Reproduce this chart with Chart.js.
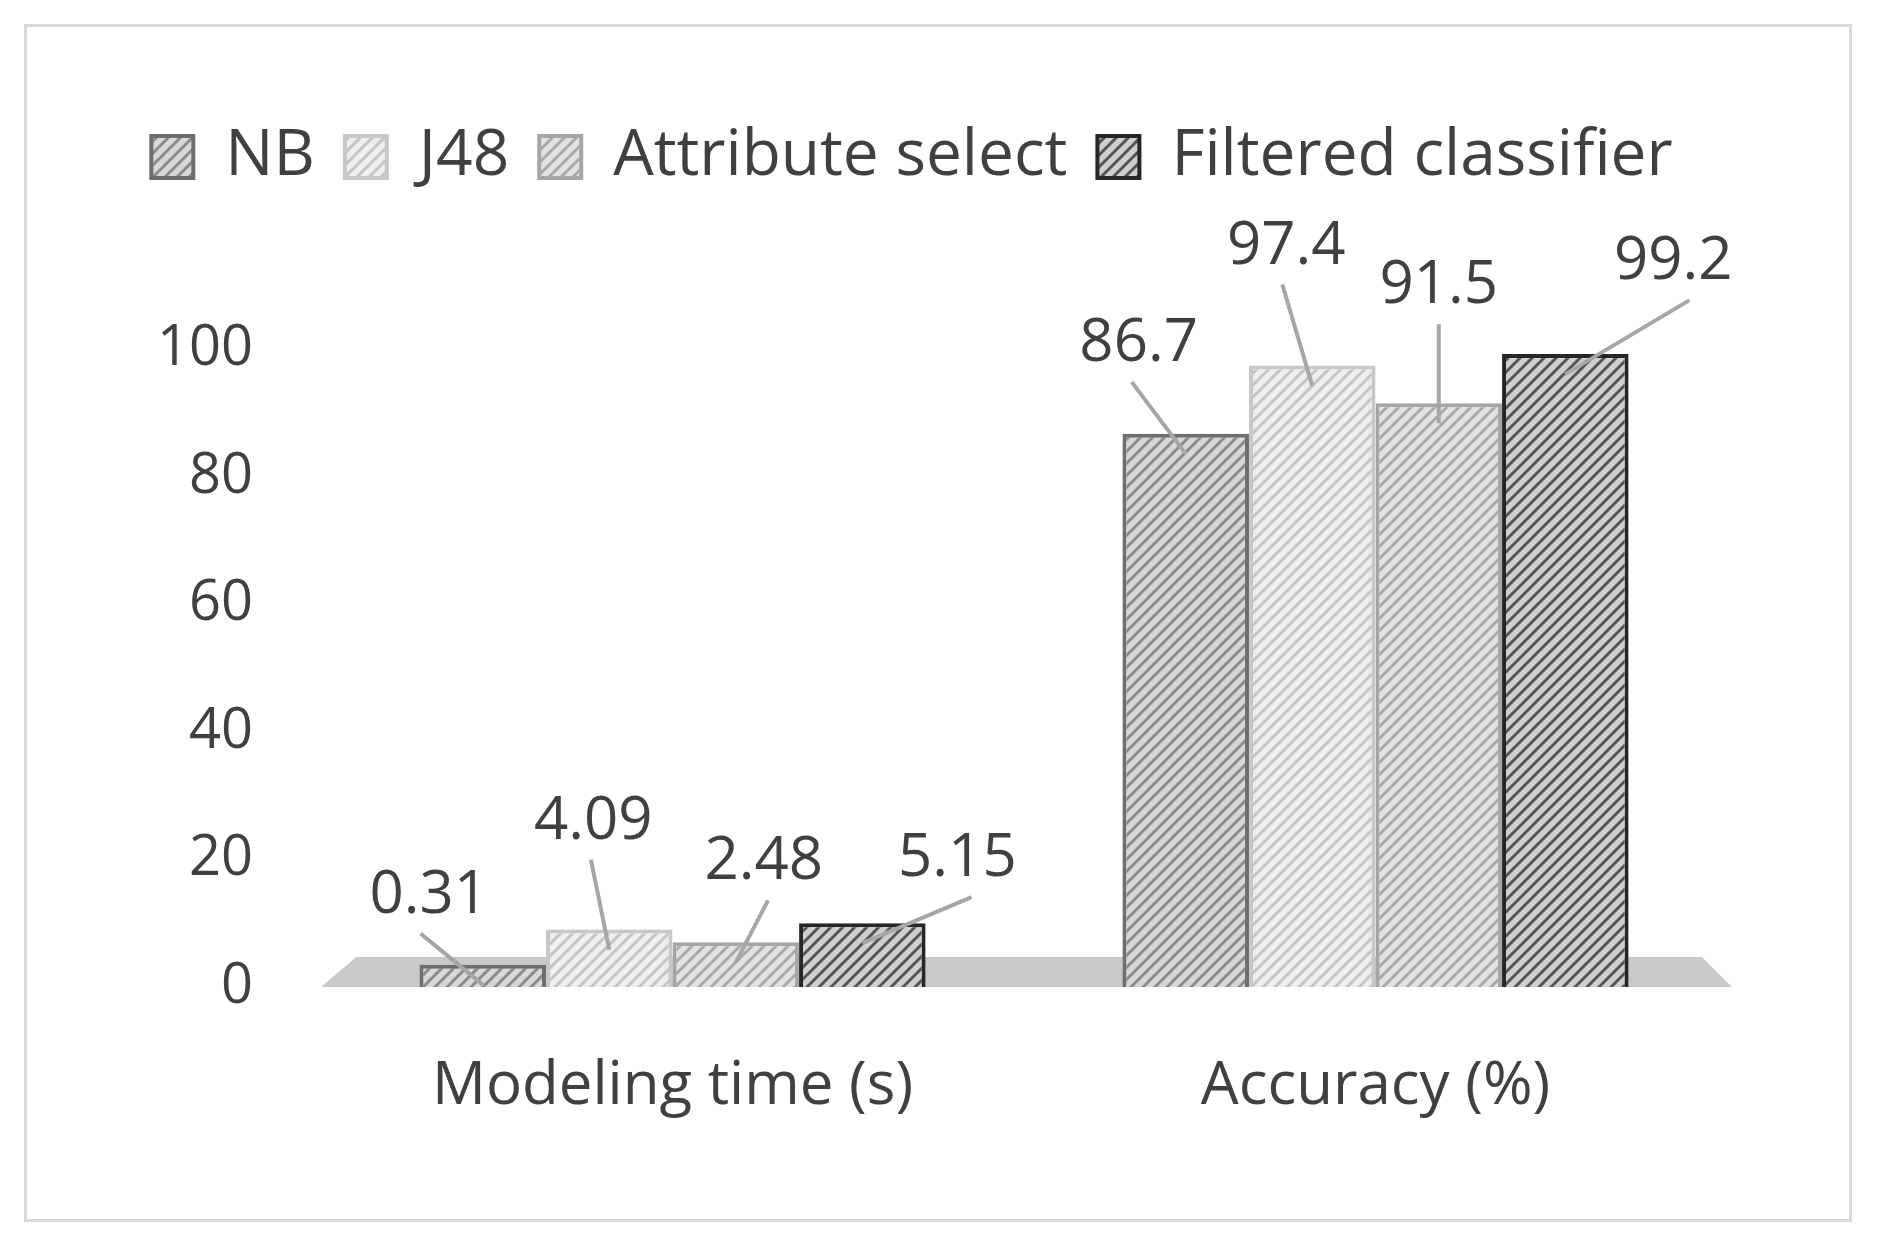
<!DOCTYPE html>
<html>
<head>
<meta charset="utf-8">
<script src="https://cdn.jsdelivr.net/npm/chart.js@4/dist/chart.umd.min.js"></script>
<style>
  body { margin: 0; background: #fff; }
  #frame { position: absolute; left: 24px; top: 24px; width: 1822px; height: 1192px; border: 3px solid #d9d9d9; }
  canvas { display: block; }
</style>
</head>
<body>
<div id="frame"><canvas id="chart" width="1822" height="1192"></canvas></div>
<script>
// chart data
const categories = ['Modeling time (s)', 'Accuracy (%)'];
const seriesNames = ['NB', 'J48', 'Attribute select', 'Filtered classifier'];
const nbValues = [0.31, 86.7];
const j48Values = [4.09, 97.4];
const attrValues = [2.48, 91.5];
const filteredValues = [5.15, 99.2];
const yTicks = [0, 20, 40, 60, 80, 100];

// drawn bar heights in the picture are exaggerated for small times
const shownNb = [3.5, 86.7];
const shownJ48 = [9, 97.4];
const shownAttr = [7, 91.5];
const shownFiltered = [10, 99.2];

function hatch(bg, line) {
    const c = document.createElement('canvas');
    c.width = 12; c.height = 12;
    const g = c.getContext('2d');
    g.fillStyle = bg; g.fillRect(0, 0, 12, 12);
    g.strokeStyle = line; g.lineWidth = 3;
    g.beginPath();
    g.moveTo(-3, 15); g.lineTo(15, -3);
    g.moveTo(-9, 9); g.lineTo(9, -9);
    g.moveTo(3, 21); g.lineTo(21, 3);
    g.stroke();
    return g.createPattern(c, 'repeat');
}

const ctx = document.getElementById('chart').getContext('2d');
const fills = [
    hatch('#d8d8d8', '#8a8a8a'),
    hatch('#eeeeee', '#c4c4c4'),
    hatch('#e2e2e2', '#a8a8a8'),
    hatch('#cfcfcf', '#555555')
];
const borders = ['#6e6e6e', '#c8c8c8', '#a6a6a6', '#262626'];

// label offsets (px) from bar top centre, per dataset then category
const labelOffsets = [
    [[-54, -69], [-47, -90]],
    [[-16, -108], [-26, -119]],
    [[28, -80], [0, -117]],
    [[95, -64], [108, -92]]
];
const valueSets = [nbValues, j48Values, attrValues, filteredValues];

const extras = {
    id: 'extras',
    beforeDatasetsDraw(chart) {
        const { ctx, chartArea, scales } = chart;
        const y0 = scales.y.getPixelForValue(0);
        ctx.save();
        ctx.fillStyle = '#c9c9c9';
        ctx.beginPath();
        ctx.moveTo(chartArea.left + 35, y0 - 30);
        ctx.lineTo(chartArea.right - 25, y0 - 30);
        ctx.lineTo(chartArea.right + 5, y0);
        ctx.lineTo(chartArea.left, y0);
        ctx.closePath();
        ctx.fill();
        ctx.restore();
    },
    afterDatasetsDraw(chart) {
        const { ctx } = chart;
        ctx.save();
        ctx.font = '60px "Open Sans"';
        ctx.fillStyle = '#404040';
        ctx.textAlign = 'center';
        ctx.textBaseline = 'middle';
        chart.data.datasets.forEach((ds, i) => {
            chart.getDatasetMeta(i).data.forEach((bar, j) => {
                const [dx, dy] = labelOffsets[i][j];
                const lx = bar.x + dx, ly = bar.y + dy;
                ctx.strokeStyle = '#a6a6a6';
                ctx.lineWidth = 4;
                ctx.beginPath();
                ctx.moveTo(lx + dx * 0.15, ly + 38);
                ctx.lineTo(bar.x, bar.y + 20);
                ctx.stroke();
                ctx.fillText(String(valueSets[i][j]), lx, ly);
            });
        });
        ctx.restore();
    }
};

const shown = [shownNb, shownJ48, shownAttr, shownFiltered];
new Chart(ctx, {
    type: 'bar',
    data: {
        labels: categories,
        datasets: seriesNames.map((name, i) => ({
            label: name,
            data: shown[i],
            backgroundColor: fills[i],
            borderColor: borders[i],
            borderWidth: 4,
            categoryPercentage: 0.72,
            barPercentage: 1
        }))
    },
    options: {
        responsive: false,
        animation: false,
        layout: { padding: { left: 70, right: 122, top: 68, bottom: 40 } },
        scales: {
            y: {
                min: 0, max: 100,
                afterBuildTicks: axis => { axis.ticks = yTicks.map(v => ({ value: v })); },
                grid: { display: false },
                border: { display: false },
                ticks: { color: '#404040', font: { size: 56, family: 'Open Sans' }, padding: 60 }
            },
            x: {
                grid: { display: false },
                border: { display: false },
                ticks: { color: '#404040', font: { size: 60, family: 'Open Sans' }, padding: 56 }
            }
        },
        plugins: {
            legend: {
                position: 'top',
                labels: {
                    color: '#404040',
                    font: { size: 64, family: 'Open Sans' },
                    boxWidth: 42, boxHeight: 42, padding: 30
                }
            },
            tooltip: { enabled: false }
        }
    },
    plugins: [extras, {
        id: 'legendGap',
        beforeInit(chart) {
            const fit = chart.legend.fit;
            chart.legend.fit = function () { fit.bind(chart.legend)(); this.height += 150; };
        }
    }]
});
</script>
</body>
</html>
